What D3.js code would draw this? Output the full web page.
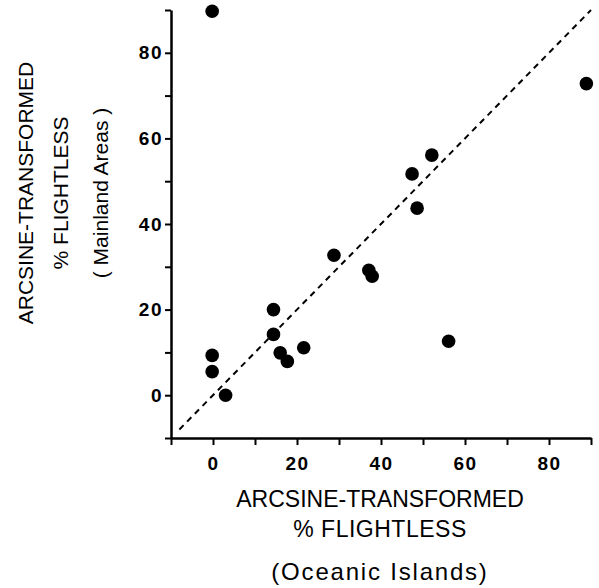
<!DOCTYPE html>
<meta charset="utf-8">
<style>
    body { margin: 0; background: #fff; }
    svg { font-family: "Liberation Sans", Arial, Helvetica, sans-serif; }
    .tick text { font-size: 19px; font-weight: bold; fill: #000; letter-spacing: 1.5px; }
    .title { font-size: 23px; fill: #000; text-anchor: middle; }
    .ytitle { font-size: 21px; fill: #000; text-anchor: middle; }
</style>
<svg width="599" height="588"></svg>
<script src="https://d3js.org/d3.v7.min.js"></script>
<script>

    // arcsine-transformed % flightless, oceanic islands (x) vs mainland areas (y)
    var islands  = [-0.2, -0.2, -0.2, 3.0, 14.4, 14.4, 16.0, 17.7, 21.6, 28.8, 37.1, 37.9, 47.4, 48.6, 52.1, 56.1, 88.9];
    var mainland = [89.7,  9.3,  5.5, 0.0, 20.0, 14.2,  9.9,  7.9, 11.1, 32.7, 29.2, 27.8, 51.7, 43.7, 56.1, 12.6, 72.8];

    var tickValues = [-10, 0, 10, 20, 30, 40, 50, 60, 70, 80, 90];
    var labelValues = [0, 20, 40, 60, 80];
    var lineExtent = [-8, 90];   // 1:1 reference line

    var svg = d3.select("svg");

    var x = d3.scaleLinear().domain([-10, 90]).range([171, 591]);
    var y = d3.scaleLinear().domain([-10, 90]).range([438, 10]);

    var xAxis = d3.axisBottom(x)
        .tickValues(tickValues)
        .tickSize(7)
        .tickSizeOuter(0)
        .tickFormat(function (d) { return labelValues.indexOf(d) >= 0 ? d : ""; });

    var yAxis = d3.axisLeft(y)
        .tickValues(tickValues)
        .tickSize(6)
        .tickSizeOuter(0)
        .tickFormat(function (d) { return labelValues.indexOf(d) >= 0 ? d : ""; });

    var gx = svg.append("g")
        .attr("transform", "translate(0," + y(-10) + ")")
        .call(xAxis);
    gx.select(".domain").attr("stroke-width", 2.5);
    gx.selectAll(".tick line").attr("stroke-width", 2);
    gx.selectAll(".tick text").attr("y", 32).attr("dy", 0);

    var gy = svg.append("g")
        .attr("transform", "translate(" + x(-10) + ",0)")
        .call(yAxis);
    gy.select(".domain").attr("stroke-width", 2.5);
    gy.selectAll(".tick line").attr("stroke-width", 2);
    gy.selectAll(".tick text").attr("x", -8);

    // dashed 1:1 line
    svg.append("line")
        .attr("x1", x(lineExtent[0]))
        .attr("y1", y(lineExtent[0]))
        .attr("x2", x(lineExtent[1]))
        .attr("y2", y(lineExtent[1]))
        .attr("stroke", "#000")
        .attr("stroke-width", 2)
        .attr("stroke-dasharray", "6,5");

    svg.append("g").selectAll("circle")
        .data(islands)
        .enter().append("circle")
        .attr("cx", function (d) { return x(d); })
        .attr("cy", function (d, i) { return y(mainland[i]); })
        .attr("r", 6.8)
        .attr("fill", "#000");

    // x title
    var xt = [["ARCSINE-TRANSFORMED", 507, 23, 0], ["% FLIGHTLESS", 537, 23, 0.5], ["(Oceanic Islands)", 580, 24, 1.8]];
    xt.forEach(function (t) {
        svg.append("text")
            .attr("class", "title")
            .attr("x", 380)
            .attr("y", t[1])
            .style("font-size", t[2] + "px")
            .style("letter-spacing", t[3] + "px")
            .text(t[0]);
    });

    // y title
    var yt = [["ARCSINE-TRANSFORMED", 33], ["% FLIGHTLESS", 68], ["( Mainland Areas )", 108]];
    yt.forEach(function (t) {
        svg.append("text")
            .attr("class", "ytitle")
            .attr("transform", "translate(" + t[1] + ",193) rotate(-90)")
            .text(t[0]);
    });

</script>
